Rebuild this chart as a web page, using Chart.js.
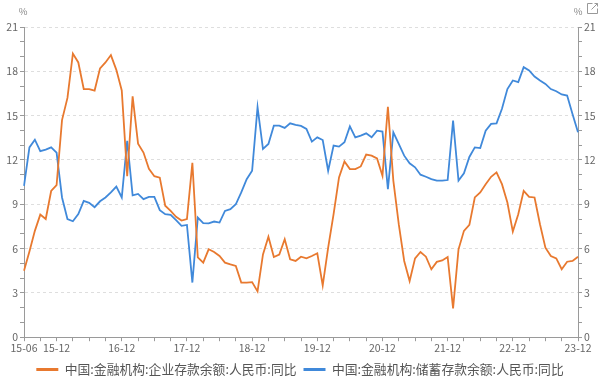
<!DOCTYPE html>
<html>
<head>
<meta charset="utf-8">
<script src="https://cdn.jsdelivr.net/npm/chart.js@4/dist/chart.umd.min.js"></script>
<style>
html,body{margin:0;padding:0;background:#fff;}
#wrap{position:relative;width:600px;height:383px;}
</style>
</head>
<body>
<div id="wrap"><canvas id="c" width="600" height="383"></canvas></div>
<script>
// ---- categories (monthly, 2015-06 .. 2023-12) ----
const months = [
  '15-06','15-07','15-08','15-09','15-10','15-11','15-12',
  '16-01','16-02','16-03','16-04','16-05','16-06','16-07','16-08','16-09','16-10','16-11','16-12',
  '17-01','17-02','17-03','17-04','17-05','17-06','17-07','17-08','17-09','17-10','17-11','17-12',
  '18-01','18-02','18-03','18-04','18-05','18-06','18-07','18-08','18-09','18-10','18-11','18-12',
  '19-01','19-02','19-03','19-04','19-05','19-06','19-07','19-08','19-09','19-10','19-11','19-12',
  '20-01','20-02','20-03','20-04','20-05','20-06','20-07','20-08','20-09','20-10','20-11','20-12',
  '21-01','21-02','21-03','21-04','21-05','21-06','21-07','21-08','21-09','21-10','21-11','21-12',
  '22-01','22-02','22-03','22-04','22-05','22-06','22-07','22-08','22-09','22-10','22-11','22-12',
  '23-01','23-02','23-03','23-04','23-05','23-06','23-07','23-08','23-09','23-10','23-11','23-12'
];
const tickLabels = ['15-06','15-12','16-12','17-12','18-12','19-12','20-12','21-12','22-12','23-12'];
const seriesNames = ['中国:金融机构:企业存款余额:人民币:同比','中国:金融机构:储蓄存款余额:人民币:同比'];
const unitLabel = '%';

// ---- series values (%) ----
const corpDeposits = [
  4.5, 5.8, 7.2, 8.3, 8.0, 9.9, 10.3,
  14.7, 16.2, 19.2, 18.6, 16.8, 16.8, 16.7, 18.2, 18.6, 19.1, 18.1, 16.7,
  10.9, 16.3, 13.1, 12.5, 11.4, 10.9, 10.8, 8.9, 8.55, 8.15, 7.9, 8.0,
  11.8, 5.4, 5.05, 5.95, 5.77, 5.5, 5.05, 4.93, 4.82, 3.7, 3.7, 3.73,
  3.1, 5.6, 6.8, 5.43, 5.6, 6.63, 5.27, 5.16, 5.45, 5.34, 5.5, 5.68,
  3.5, 6.06, 8.33, 10.82, 11.9, 11.38, 11.38, 11.56, 12.36, 12.29, 12.1, 10.93,
  15.6, 10.6, 7.65, 5.16, 3.8, 5.34, 5.77, 5.45, 4.6, 5.1, 5.2, 5.43,
  1.95, 5.95, 7.2, 7.6, 9.46, 9.8, 10.36, 10.86, 11.16, 10.36, 9.12, 7.15,
  8.33, 9.91, 9.5, 9.46, 7.65, 6.06, 5.5, 5.34, 4.6, 5.11, 5.16, 5.45
];
const savingsDeposits = [
  10.25, 12.85, 13.37, 12.6, 12.7, 12.85, 12.5,
  9.46, 8.0, 7.85, 8.33, 9.23, 9.1, 8.8, 9.2, 9.46, 9.8, 10.2, 9.46,
  13.3, 9.6, 9.7, 9.35, 9.5, 9.5, 8.6, 8.33, 8.28, 7.92, 7.54, 7.6,
  3.7, 8.1, 7.72, 7.7, 7.83, 7.76, 8.55, 8.67, 9.0, 9.8, 10.7, 11.27,
  15.57, 12.74, 13.08, 14.32, 14.32, 14.17, 14.48, 14.37, 14.3, 14.1, 13.24, 13.53,
  13.35, 11.27, 12.97, 12.9, 13.2, 14.27, 13.53, 13.65, 13.8, 13.53, 13.98, 13.92,
  10.03, 13.87, 13.08, 12.29, 11.77, 11.5, 11.0, 10.86, 10.7, 10.6, 10.6, 10.64,
  14.66, 10.6, 11.1, 12.2, 12.85, 12.8, 13.98, 14.44, 14.48, 15.46, 16.8, 17.38,
  17.27, 18.28, 18.06, 17.65, 17.38, 17.15, 16.8, 16.65, 16.43, 16.36, 15.1, 13.87
];
const seriesColors = ['#E8792F', '#4089DA'];

// ---- styling ----
const FONT = "'Noto Sans CJK SC','Noto Sans',sans-serif";
const AXIS = '#9a9a9a';
const GRID = '#dedede';
const LABEL = '#666666';

function yAxis(position, onArea, width) {
  return {
    type: 'linear', position, min: 0, max: 21,
    afterFit: ax => { ax.width = width; },
    border: { display: true, color: AXIS, width: 1, dash: [3, 3] },
    grid: {
      drawOnChartArea: onArea,
      color: ctx => (ctx.tick && ctx.tick.value % 3 === 0) ? GRID : 'rgba(0,0,0,0)',
      tickColor: AXIS, tickLength: 4, lineWidth: 1
    },
    ticks: {
      stepSize: 1, padding: 2, color: LABEL, autoSkip: false,
      font: { family: FONT, size: 10.5 },
      callback: v => (v % 3 === 0 ? String(v) : '')
    }
  };
}

const decor = {
  id: 'decor',
  afterDraw(chart) {
    const { ctx, chartArea } = chart;
    ctx.save();
    ctx.font = '9.5px ' + FONT;
    ctx.fillStyle = '#888';
    ctx.textAlign = 'center';
    ctx.textBaseline = 'middle';
    ctx.fillText(unitLabel, chartArea.left - 1, 11);
    ctx.fillText(unitLabel, chartArea.right, 11);
    // expand icon
    ctx.strokeStyle = '#999';
    ctx.lineWidth = 1;
    ctx.beginPath();
    ctx.moveTo(592.5, 3.5); ctx.lineTo(587.5, 3.5); ctx.lineTo(587.5, 13.5);
    ctx.lineTo(597.5, 13.5); ctx.lineTo(597.5, 8.5);
    ctx.moveTo(591.5, 9.5); ctx.lineTo(597.5, 3.5);
    ctx.moveTo(594.5, 3.5); ctx.lineTo(597.5, 3.5); ctx.lineTo(597.5, 6.5);
    ctx.stroke();
    ctx.restore();
  }
};

new Chart(document.getElementById('c'), {
  type: 'line',
  data: {
    labels: months,
    datasets: [
      { label: seriesNames[0], data: corpDeposits, borderColor: seriesColors[0], backgroundColor: seriesColors[0],
        borderWidth: 1.8, pointRadius: 0, tension: 0, yAxisID: 'y' },
      { label: seriesNames[1], data: savingsDeposits, borderColor: seriesColors[1], backgroundColor: seriesColors[1],
        borderWidth: 1.8, pointRadius: 0, tension: 0, yAxisID: 'y' }
    ]
  },
  options: {
    responsive: false,
    animation: false,
    layout: { padding: { top: 27, left: 0, right: 0, bottom: -3 } },
    plugins: {
      tooltip: { enabled: false },
      legend: {
        position: 'bottom',
        labels: {
          boxWidth: 22, boxHeight: 3, padding: 7, color: '#555',
          font: { family: FONT, size: 12.8 },
          generateLabels: chart => chart.data.datasets.map((ds, i) => ({
            text: ds.label, fillStyle: ds.borderColor, strokeStyle: ds.borderColor,
            lineWidth: 0, hidden: false, datasetIndex: i, fontColor: '#555'
          }))
        }
      }
    },
    scales: {
      x: {
        type: 'category',
        afterFit: ax => { ax.height = 19; },
        border: { display: true, color: AXIS, width: 1 },
        grid: {
          drawOnChartArea: false, tickLength: 4,
          color: 'rgba(0,0,0,0)',
          tickColor: ctx => (ctx.index % 3 === 0 ? AXIS : 'rgba(0,0,0,0)')
        },
        ticks: {
          autoSkip: false, maxRotation: 0, minRotation: 0, padding: 1, color: LABEL,
          font: { family: FONT, size: 10.5 },
          callback: (val, idx) => (tickLabels.includes(months[idx]) ? months[idx] : '')
        }
      },
      y: yAxis('left', true, 24),
      y2: yAxis('right', false, 22)
    }
  },
  plugins: [decor]
});
</script>
</body>
</html>
